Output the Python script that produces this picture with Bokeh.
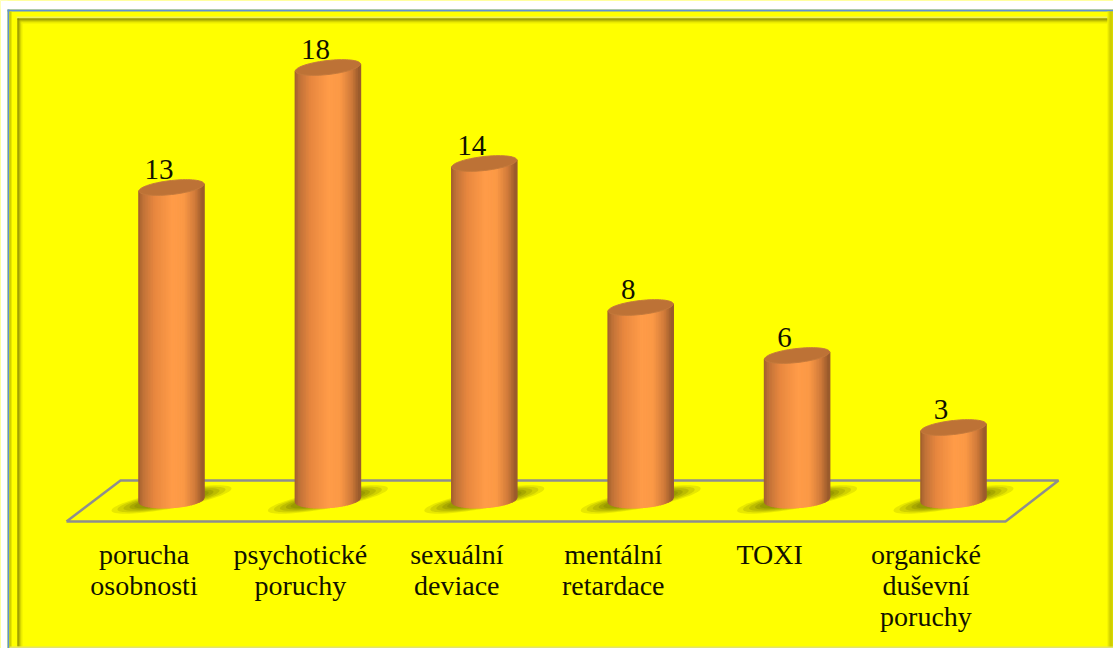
import numpy as np
from bokeh.plotting import figure
from bokeh.models import Range1d
from bokeh.core.properties import value
from bokeh.embed import file_html
from bokeh.resources import INLINE

categories = ["porucha\nosobnosti", "psychotické\nporuchy", "sexuální\ndeviace",
              "mentální\nretardace", "TOXI", "organické\nduševní\nporuchy"]
counts = [13, 18, 14, 8, 6, 3]

W, H = 1113, 648
STEP = 156.4      # px per category
UNIT = 24.0       # px per count
X0 = 171.0        # px of first category
Y0 = 499.0        # px from top of value 0
A, B, T = 32.5, 7.0, 3.5   # ellipse half-width, half-height, tilt (px)
FONT = "Liberation Serif"

p = figure(width=W, height=H, output_backend="svg", toolbar_location=None,
           x_range=Range1d(-X0 / STEP, (W - X0) / STEP),
           y_range=Range1d(-(H - Y0) / UNIT, Y0 / UNIT),
           min_border=0, background_fill_color="#ffff00", border_fill_color="#ffff00",
           outline_line_color=None)
p.axis.visible = False
p.grid.visible = False
p.extra_x_ranges["px"] = Range1d(0, W)
p.extra_y_ranges["px"] = Range1d(H, 0)


def mix(stops, t):
    xs = [s[0] for s in stops]
    rgb = [np.interp(t, xs, [int(s[1][i:i + 2], 16) for s in stops]) for i in (1, 3, 5)]
    return "#%02x%02x%02x" % tuple(int(round(c)) for c in rgb)


def rect(x0, y0, x1, y1, color):
    p.quad(left=x0, right=x1, top=y0, bottom=y1, fill_color=color, line_color=None,
           x_range_name="px", y_range_name="px")


# white surround and bevelled frame
rect(0, 0, W, 9, "#ffffff")
rect(0, 0, 7, H, "#ffffff")
rect(7, 9, W, 11, "#5f92d2")
rect(7, 9, 9, H, "#5f92d2")
rect(9, 11, 11, H, "#d0d000")
rect(16, 16, W - 6, 18, "#f2f25a")
for i, c in enumerate(["#6e6e00", "#8f8f00", "#b2b200", "#d4d400", "#eeee00"]):
    rect(17 + i, 18 + i, 18 + i, H - 2, c)
    rect(17 + i, 18 + i, W - 6, 19 + i, c)
for i, c in enumerate(["#eeee00", "#d8d800", "#c8c800", "#bcbc00", "#c4c400", "#d0d000"]):
    rect(W - 6 + i, 11, W - 5 + i, H, c)
rect(9, H - 2, W, H, "#e4e46a")

# floor
floor_x = [66, 1005, 1058, 120, 66]
floor_y = [521, 521, 480, 480, 521]
p.line(floor_x, floor_y, line_color="#8e8e8e", line_width=2.5,
       x_range_name="px", y_range_name="px")

theta = np.linspace(0, 2 * np.pi, 73)
# shadows
for scale, alpha in [(1.0, 0.2), (0.9, 0.25), (0.8, 0.3), (0.7, 0.4), (0.62, 0.5)]:
    xs, ys = [], []
    for i in range(len(counts)):
        xs.append(i + 60 * scale * np.cos(theta) / STEP)
        ys.append((0 + 11 * scale * np.cos(theta) + 9 * scale * np.sin(theta)) / UNIT)
    p.patches(xs, ys, fill_color="#8a8a00", fill_alpha=alpha, line_color=None)

# cylinders
stops = [(-1.0, "#a05e2c"), (-0.85, "#c07238"), (-0.5, "#e8873f"), (0.05, "#ff9c48"),
         (0.4, "#fb9946"), (0.75, "#d07a3a"), (1.0, "#95582a")]
N = 40
edges = np.linspace(-1, 1, N + 1)
for i, v in enumerate(counts):
    sx, sy, sc = [], [], []
    for k in range(N):
        u = np.linspace(edges[k], edges[k + 1], 3)
        low = -np.sqrt(np.clip(1 - u ** 2, 0, 1)) * (B + 1) + T * 0.6 * u
        top = v + T * u[::-1] / UNIT
        sx.append(np.r_[i + A * u / STEP, i + A * u[::-1] / STEP])
        sy.append(np.r_[low / UNIT, top])
        sc.append(mix(stops, (edges[k] + edges[k + 1]) / 2))
    p.patches(sx, sy, fill_color=sc, line_color=sc, line_width=1.6)
    p.patch(i + A * np.cos(theta) / STEP,
            v + (B * np.sin(theta) + T * np.cos(theta)) / UNIT,
            fill_color="#bd7236", line_color="#c47a3c", line_width=1)

# texts
idx = list(range(len(counts)))
p.text(idx, counts, text=[str(v) for v in counts], text_font=value(FONT),
       text_font_size="29px", text_color="#111100", text_align="center",
       text_baseline="bottom", x_offset=-12.5, y_offset=-9)
p.text(idx, [-1.64] * len(idx), text=categories, text_font=value(FONT),
       text_font_size="28px", text_color="#111100", text_align="center",
       text_baseline="top", text_line_height=1.0, x_offset=-27.5)

open("out.html", "w").write(file_html(p, INLINE))
